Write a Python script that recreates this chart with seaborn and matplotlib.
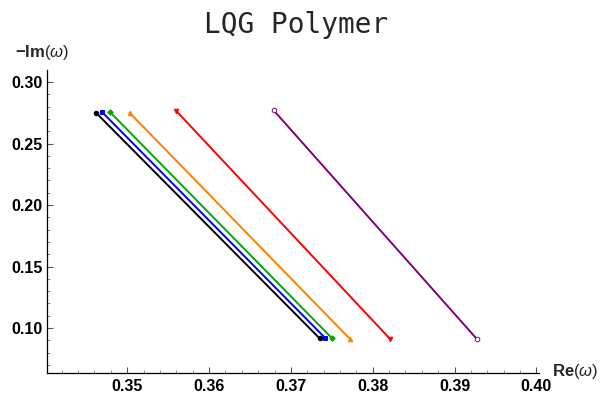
import matplotlib
matplotlib.use("Agg")
import matplotlib.pyplot as plt
import seaborn as sns
import pandas as pd
from matplotlib.ticker import MultipleLocator

sns.set_style("white")
plt.rcParams['font.family'] = ['Liberation Sans', 'DejaVu Sans']
plt.rcParams['mathtext.fontset'] = 'custom'
plt.rcParams['mathtext.rm'] = 'Liberation Sans'
plt.rcParams['mathtext.bf'] = 'Liberation Sans:bold'
plt.rcParams['mathtext.it'] = 'Liberation Sans:italic'

# Data: endpoints of each series (Re(omega), -Im(omega))
series_names = ["s1", "s2", "s3", "s4", "s5", "s6"]
re_top = [0.3462, 0.3469, 0.3479, 0.3503, 0.3560, 0.3679]
re_bottom = [0.3735, 0.3742, 0.3750, 0.3772, 0.3821, 0.3927]
im_top = [0.2750, 0.2758, 0.2756, 0.2750, 0.2765, 0.2770]
im_bottom = [0.0916, 0.0918, 0.0918, 0.0912, 0.0912, 0.0912]

colors = ["#000000", "#0000ff", "#00a800", "#ff8000", "#ff0000", "#800080"]
markers = ["o", "s", "D", "^", "v", "o"]

x_ticks = [0.35, 0.36, 0.37, 0.38, 0.39, 0.40]
y_ticks = [0.10, 0.15, 0.20, 0.25, 0.30]

fig = plt.figure(figsize=(6.05, 3.97), dpi=100)
ax = fig.add_axes([0.0777, 0.0605, 0.813, 0.763])

for i, name in enumerate(series_names):
    df = pd.DataFrame({"re": [re_top[i], re_bottom[i]],
                       "im": [im_top[i], im_bottom[i]]})
    face = "white" if i == 5 else colors[i]
    sns.lineplot(data=df, x="re", y="im", ax=ax, color=colors[i], lw=1.4,
                 marker=markers[i], markersize=3.3 if markers[i] != "D" else 2.8,
                 markerfacecolor=face, markeredgecolor=colors[i],
                 markeredgewidth=0.7, sort=False)

ax.set_xlim(0.3402, 0.4003)
ax.set_ylim(0.0634, 0.3098)
ax.set_xticks(x_ticks)
ax.set_yticks(y_ticks)
ax.set_xticklabels([f"{v:.2f}" for v in x_ticks], fontweight="bold", fontsize=11.5)
ax.set_yticklabels([f"{v:.2f}" for v in y_ticks], fontweight="bold", fontsize=11.5)
ax.xaxis.set_minor_locator(MultipleLocator(0.002))
ax.yaxis.set_minor_locator(MultipleLocator(0.01))
ax.tick_params(which="major", direction="in", length=4, width=0.8, color="#555555")
ax.tick_params(axis="x", which="major", pad=4)
ax.tick_params(axis="y", which="major", pad=3)
ax.tick_params(which="minor", direction="in", length=2.5, width=0.6, color="#777777")
ax.tick_params(axis="both", which="both", bottom=True, left=True, labelcolor="black")

for s in ["top", "right"]:
    ax.spines[s].set_visible(False)
for s in ["left", "bottom"]:
    ax.spines[s].set_color("black")
    ax.spines[s].set_linewidth(0.9)

ax.set_xlabel("")
ax.set_ylabel("")
fig.text(0.069, 0.868, r"$\mathbf{-Im}(\omega)$", fontsize=12, ha="center", va="center")
fig.text(0.950, 0.065, r"$\mathbf{Re}(\omega)$", fontsize=12, ha="center", va="center")
fig.text(0.490, 0.917, "LQG Polymer", fontsize=20, family="DejaVu Sans Mono",
         ha="center", va="baseline")

fig.savefig("out.png", dpi=100)
